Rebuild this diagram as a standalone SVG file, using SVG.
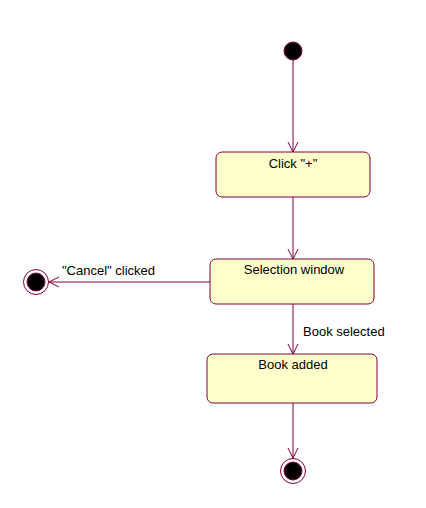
<svg xmlns="http://www.w3.org/2000/svg" width="426" height="508" viewBox="0 0 426 508">
<style>
.st{fill:#ffffcc;stroke:#800040;stroke-width:1}
.ln{stroke:#800040;stroke-width:1;fill:none}
.t{font-family:"Liberation Sans",Arial,sans-serif;font-size:13px;fill:#000}
.c{text-anchor:middle}
</style>
<defs>
<marker id="arr" viewBox="0 0 12 12" refX="11" refY="6" markerWidth="12" markerHeight="12" markerUnits="userSpaceOnUse" orient="auto">
<path d="M1,1 L11,6 L1,11" fill="none" stroke="#800040" stroke-width="1"/>
</marker>
</defs>
<rect width="426" height="508" fill="#fff"/>
<g id="connectors">
<line class="ln" x1="293" y1="60" x2="293" y2="152" marker-end="url(#arr)"/>
<line class="ln" x1="293" y1="197" x2="293" y2="259" marker-end="url(#arr)"/>
<line class="ln" x1="210" y1="282" x2="49" y2="282" marker-end="url(#arr)"/>
<text class="t" x="62" y="275">"Cancel" clicked</text>
<line class="ln" x1="293" y1="304" x2="293" y2="354" marker-end="url(#arr)"/>
<text class="t" x="303" y="336">Book selected</text>
<line class="ln" x1="293" y1="403" x2="293" y2="458" marker-end="url(#arr)"/>
</g>
<g id="initial">
<circle cx="293" cy="51" r="9" fill="#000" stroke="#800040"/>
</g>
<g id="click">
<rect class="st" x="216" y="152" width="154" height="45" rx="6"/>
<text class="t c" x="293" y="168">Click "+"</text>
</g>
<g id="selection">
<rect class="st" x="210" y="259" width="164" height="45" rx="6"/>
<text class="t c" x="294" y="274">Selection window</text>
</g>
<g id="bookadded">
<rect class="st" x="207" y="354" width="170" height="49" rx="6"/>
<text class="t c" x="293" y="369">Book added</text>
</g>
<g id="final-left">
<circle cx="36" cy="282" r="12.5" fill="#fff" stroke="#800040"/>
<circle cx="36" cy="282" r="9" fill="#000" stroke="#800040"/>
</g>
<g id="final-bottom">
<circle cx="293" cy="471" r="12.5" fill="#fff" stroke="#800040"/>
<circle cx="293" cy="471" r="9" fill="#000" stroke="#800040"/>
</g>
</svg>
